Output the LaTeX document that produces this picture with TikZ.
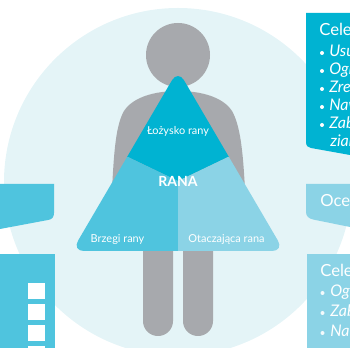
\documentclass[tikz,border=0pt]{standalone}
\usepackage{fontspec}
\setmainfont{Lato}
\definecolor{bgc}{HTML}{E4F4F7}
\definecolor{grayb}{HTML}{A7A9AD}
\definecolor{cdark}{HTML}{00B3D2}
\definecolor{cmid}{HTML}{4FC4DE}
\definecolor{clight}{HTML}{8BD3E6}
\tikzset{
  px/.style={x=0.75pt,y=-0.75pt},
  lab/.style={text=white,font=\fontsize{8.2}{9}\selectfont,inner sep=0pt},
  side/.style={text=white,font=\fontsize{12.5}{14}\selectfont,inner sep=0pt,anchor=base west},
  item/.style={text=white,font=\fontsize{12}{14}\selectfont\itshape,inner sep=0pt,anchor=base west},
  bul/.style={fill=white,circle,inner sep=0pt,minimum size=3pt},
  sq/.style={fill=white,draw=none}
}
\begin{document}
\begin{tikzpicture}[px]
\useasboundingbox (0,0) rectangle (350,348);
\clip (0,0) rectangle (350,348);
\fill[bgc] (178,182) circle (174);
% person
\fill[grayb] (178,55) circle (32);
\fill[grayb] (112,190) .. controls (114,150) and (116,125) .. (124,111) .. controls (133,97) and (155,91) .. (178,91) .. controls (201,91) and (223,97) .. (232,111) .. controls (240,125) and (243,150) .. (245,190) -- cycle;
\fill[grayb,rounded corners=11.2pt] (143,235) rectangle (173,336);
\fill[grayb,rounded corners=11.2pt] (183,235) rectangle (213,336);
% triangle
\begin{scope}
\clip[rounded corners=9pt] (178,70) -- (284,251) -- (72,251) -- cycle;
\fill[cdark] (178,60) -- (240,157) -- (228,157) -- (178,181) -- (128,157) -- (116,157) -- cycle;
\fill[cmid] (128,157) -- (178,181) -- (178,260) -- (60,260) -- (100,157) -- cycle;
\fill[clight] (228,157) -- (178,181) -- (178,260) -- (300,260) -- (256,157) -- cycle;
\end{scope}
\node[lab] (lozysko) at (178,131) {Łożysko rany};
\node[text=white,font=\fontsize{10.5}{12}\selectfont\bfseries,inner sep=0pt] (rana) at (178,181) {RANA};
\node[lab] (brzegi) at (117.5,239.5) {Brzegi rany};
\node[lab] (otacz) at (226.5,239.5) {Otaczająca rana};
% left boxes
\fill[cmid] (0,184) -- (54,184) -- (54,213) .. controls (54,217) and (52,219.5) .. (48,220) -- (0,229) -- cycle;
\fill[cmid] (0,254) rectangle (55,348);
\foreach \y in {283,304,325,346} \fill[sq] (28,\y) rectangle (45,\y+16);
% right top
\fill[cdark] (306,13) -- (350,13) -- (350,155) -- (311,148) .. controls (308,147.5) and (306,146) .. (306,142) -- cycle;
\node[side] at (319,36) {Cele};
\foreach \y/\t in {57/Usu,75/Ogr,93/Zre,111/Naw,129/Zab} {
  \node[bul] at (322,\y-4) {};
  \node[item] at (329,\y) {\t};
}
\node[item] at (330,147) {ziar};
% right middle
\fill[clight] (306,184) -- (350,184) -- (350,227) -- (313,219.5) .. controls (309,218.5) and (306,216.5) .. (306,212) -- cycle;
\node[side] at (320,207) {Ocen};
% right bottom
\fill[clight] (307,254) rectangle (350,348);
\node[side] at (320,277) {Cele};
\foreach \y/\t in {297/Ogr,317/Zab,337/Naw} {
  \node[bul,opacity=.9] at (322.5,\y-4) {};
  \node[item] at (330,\y) {\t};
}
\end{tikzpicture}
\end{document}
